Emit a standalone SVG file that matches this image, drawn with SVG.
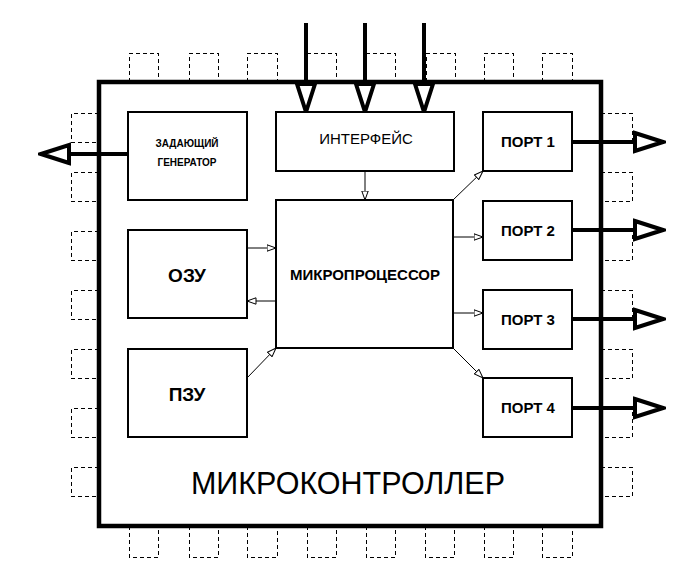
<svg xmlns="http://www.w3.org/2000/svg" width="700" height="579" viewBox="0 0 700 579">
<style>
.pin{fill:none;stroke:#000;stroke-width:1;stroke-dasharray:4,3;shape-rendering:crispEdges}
.box{fill:#fff;stroke:#000;stroke-width:2}
.thin{fill:none;stroke:#000;stroke-width:1}
.thick{fill:none;stroke:#000;stroke-width:4}
.t{font-family:"Liberation Sans",Arial,sans-serif;text-anchor:middle;fill:#000}
.b{font-weight:bold}
</style>
<defs>
<marker id="sm" viewBox="0 0 10 8" refX="9.5" refY="4" markerWidth="10" markerHeight="8" markerUnits="userSpaceOnUse" orient="auto">
<path d="M0.5,0.8 L9.5,4 L0.5,7.2 Z" fill="#fff" stroke="#000" stroke-width="1"/>
</marker>
<marker id="big" viewBox="0 0 34 24" refX="31" refY="12" markerWidth="34" markerHeight="24" markerUnits="userSpaceOnUse" orient="auto">
<path d="M3,3 L31,12 L3,21 Z" fill="#fff" stroke="#000" stroke-width="4" stroke-linejoin="miter"/>
</marker>
</defs>
<rect width="700" height="579" fill="#fff"/>
<g id="pins">
<path class="pin" d="M129.5,82 V53.5 H158.5 V82 M189.5,82 V53.5 H218.5 V82 M247.5,82 V53.5 H277.5 V82 M307.5,82 V53.5 H336.5 V82 M366.5,82 V53.5 H395.5 V82 M426.5,82 V53.5 H455.5 V82 M484.5,82 V53.5 H513.5 V82 M542.5,82 V53.5 H572.5 V82"/>
<path class="pin" d="M129.5,526 V557.5 H158.5 V526 M189.5,526 V557.5 H218.5 V526 M247.5,526 V557.5 H277.5 V526 M307.5,526 V557.5 H336.5 V526 M366.5,526 V557.5 H395.5 V526 M425.5,526 V557.5 H454.5 V526 M484.5,526 V557.5 H513.5 V526 M542.5,526 V557.5 H572.5 V526"/>
<path class="pin" d="M99,113.5 H71.5 V142.5 H99 M99,172.5 H71.5 V201.5 H99 M99,231.5 H71.5 V260.5 H99 M99,290.5 H71.5 V319.5 H99 M99,349.5 H71.5 V378.5 H99 M99,408.5 H71.5 V437.5 H99 M99,467.5 H71.5 V496.5 H99"/>
<path class="pin" d="M601,113.5 H632.5 V142.5 H601 M601,172.5 H632.5 V201.5 H601 M601,231.5 H632.5 V260.5 H601 M601,290.5 H632.5 V319.5 H601 M601,349.5 H632.5 V378.5 H601 M601,408.5 H632.5 V437.5 H601 M601,467.5 H632.5 V496.5 H601"/>
</g>
<g id="mcu">
<rect x="99" y="82" width="502" height="444" fill="#fff" stroke="#000" stroke-width="4.5"/>
<text class="t" x="348" y="494" font-size="30.5">МИКРОКОНТРОЛЛЕР</text>
</g>
<g id="connectors">
<line class="thick" x1="306" y1="23" x2="306" y2="112" marker-end="url(#big)"/>
<line class="thick" x1="365" y1="23" x2="365" y2="112" marker-end="url(#big)"/>
<line class="thick" x1="424" y1="23" x2="424" y2="112" marker-end="url(#big)"/>
<line class="thick" x1="129" y1="154" x2="41" y2="154" marker-end="url(#big)"/>
<line class="thick" x1="572" y1="142" x2="663" y2="142" marker-end="url(#big)"/>
<line class="thick" x1="572" y1="230" x2="663" y2="230" marker-end="url(#big)"/>
<line class="thick" x1="572" y1="319" x2="663" y2="319" marker-end="url(#big)"/>
<line class="thick" x1="572" y1="408" x2="663" y2="408" marker-end="url(#big)"/>
<line class="thin" x1="365" y1="171" x2="365" y2="200" marker-end="url(#sm)"/>
<line class="thin" x1="247" y1="248" x2="276" y2="248" marker-end="url(#sm)"/>
<line class="thin" x1="276" y1="301" x2="247" y2="301" marker-end="url(#sm)"/>
<line class="thin" x1="247" y1="378" x2="276" y2="348" marker-end="url(#sm)"/>
<line class="thin" x1="453" y1="200" x2="483" y2="171" marker-end="url(#sm)"/>
<line class="thin" x1="453" y1="237" x2="483" y2="237" marker-end="url(#sm)"/>
<line class="thin" x1="453" y1="313" x2="483" y2="313" marker-end="url(#sm)"/>
<line class="thin" x1="453" y1="348" x2="483" y2="378" marker-end="url(#sm)"/>
</g>
<g id="generator">
<rect class="box" x="128" y="112" width="119" height="88"/>
<text class="t b" x="187" y="147" font-size="10">ЗАДАЮЩИЙ</text>
<text class="t b" x="187" y="166" font-size="10">ГЕНЕРАТОР</text>
</g>
<g id="interface">
<rect class="box" x="276" y="112" width="178" height="59"/>
<text class="t" x="366" y="144" font-size="15">ИНТЕРФЕЙС</text>
</g>
<g id="ram">
<rect class="box" x="128" y="230" width="119" height="88"/>
<text class="t b" x="187" y="282" font-size="19">ОЗУ</text>
</g>
<g id="rom">
<rect class="box" x="128" y="349" width="119" height="88"/>
<text class="t b" x="187" y="401" font-size="19">ПЗУ</text>
</g>
<g id="cpu">
<rect class="box" x="276" y="200" width="177" height="148"/>
<text class="t b" x="365" y="280" font-size="15">МИКРОПРОЦЕССОР</text>
</g>
<g id="port1">
<rect class="box" x="483" y="112" width="89" height="59"/>
<text class="t b" x="528" y="147" font-size="15">ПОРТ 1</text>
</g>
<g id="port2">
<rect class="box" x="483" y="201" width="89" height="59"/>
<text class="t b" x="528" y="236" font-size="15">ПОРТ 2</text>
</g>
<g id="port3">
<rect class="box" x="483" y="290" width="89" height="59"/>
<text class="t b" x="528" y="325" font-size="15">ПОРТ 3</text>
</g>
<g id="port4">
<rect class="box" x="483" y="378" width="89" height="59"/>
<text class="t b" x="528" y="413" font-size="15">ПОРТ 4</text>
</g>
</svg>
